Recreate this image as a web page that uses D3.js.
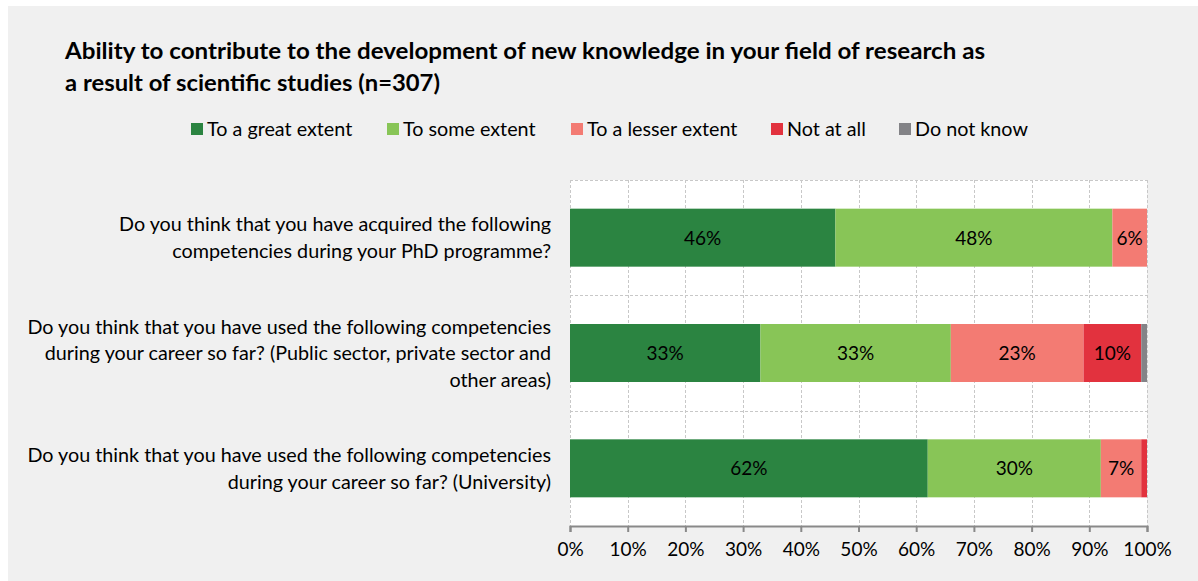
<!DOCTYPE html>
<html>
<head>
<meta charset="utf-8">
<script src="https://cdn.jsdelivr.net/npm/d3@7"></script>
<style>
  html, body { margin: 0; padding: 0; background: #ffffff; }
  svg { display: block; }
  text { font-family: Lato, "Open Sans", sans-serif; fill: #000; }
</style>
</head>
<body>
<svg id="chart" width="1198" height="581"></svg>
<script>
// Survey question rows (each split into display lines)
const categories = [
  ["Do you think that you have acquired the following", "competencies during your PhD programme?"],
  ["Do you think that you have used the following competencies", "during your career so far? (Public sector, private sector and", "other areas)"],
  ["Do you think that you have used the following competencies", "during your career so far? (University)"]
];

// Answer categories and their colours
const seriesNames = ["To a great extent", "To some extent", "To a lesser extent", "Not at all", "Do not know"];
const seriesColors = ["#2b8441", "#88c557", "#f37b73", "#e2323e", "#838387"];

// Share of respondents (%) per row, one array per answer
const greatExtent  = [46, 33, 62];
const someExtent   = [48, 33, 30];
const lesserExtent = [6, 23, 7];
const notAtAll     = [0, 10, 1];
const doNotKnow    = [0, 1, 0];

const xTickValues = [0, 10, 20, 30, 40, 50, 60, 70, 80, 90, 100];

const titleLines = [
  "Ability to contribute to the development of new knowledge in your field of research as",
  "a result of scientific studies (n=307)"
];

const seriesValues = [greatExtent, someExtent, lesserExtent, notAtAll, doNotKnow];

const svg = d3.select("#chart");
const W = 1198, H = 581;
const FS = 19;        // bar and axis labels
const FS_LABEL = 19.75; // category and legend labels

// Panel background
svg.append("rect").attr("x", 8).attr("y", 6).attr("width", W - 8).attr("height", H - 6).attr("fill", "#f0f0f0");

// Title
const title = svg.append("g");
titleLines.forEach((t, i) => {
  const el = title.append("text")
    .attr("x", 65).attr("y", 59 + i * 32)
    .attr("font-weight", "bold").attr("font-size", 22)
    .text(t);
  if (i === 0) el.attr("textLength", 920).attr("lengthAdjust", "spacingAndGlyphs");
  if (i === 1) el.attr("textLength", 375).attr("lengthAdjust", "spacingAndGlyphs");
});

// Legend
const legendX = [191, 387, 571, 771, 899];
const legend = svg.append("g");
seriesNames.forEach((name, i) => {
  legend.append("rect").attr("x", legendX[i]).attr("y", 123).attr("width", 12).attr("height", 12).attr("fill", seriesColors[i]);
  legend.append("text").attr("x", legendX[i] + 16).attr("y", 136).attr("font-size", FS_LABEL).text(name);
});

// Plot area
const x0 = 570, x1 = 1147, y0 = 180, y1 = 526;
const x = d3.scaleLinear().domain([0, 100]).range([x0, x1]);
const y = d3.scaleBand().domain(d3.range(categories.length)).range([y0, y1]).paddingInner(0).paddingOuter(0);
const barH = 58;

svg.append("rect").attr("x", x0).attr("y", y0).attr("width", x1 - x0).attr("height", y1 - y0).attr("fill", "#ffffff");

// Dashed grid
const grid = svg.append("g").attr("stroke", "#c8c8c8").attr("stroke-dasharray", "3,2").attr("stroke-width", 1);
xTickValues.forEach(v => {
  grid.append("line").attr("x1", Math.round(x(v)) + 0.5).attr("x2", Math.round(x(v)) + 0.5).attr("y1", y0).attr("y2", y1);
});
d3.range(categories.length).forEach(i => {
  grid.append("line").attr("x1", x0).attr("x2", x1).attr("y1", Math.round(y(i)) + 0.5).attr("y2", Math.round(y(i)) + 0.5);
});

// Stacked bars
const stackData = categories.map((c, i) => {
  const row = {};
  seriesNames.forEach((s, j) => row[s] = seriesValues[j][i]);
  return row;
});
const stacked = d3.stack().keys(seriesNames)(stackData);

const barsG = svg.append("g");
stacked.forEach((layer, j) => {
  layer.forEach((d, i) => {
    const w = x(d[1]) - x(d[0]);
    if (w <= 0) return;
    const cy = y(i) + y.bandwidth() / 2;
    barsG.append("rect")
      .attr("x", x(d[0])).attr("y", cy - barH / 2)
      .attr("width", w).attr("height", barH)
      .attr("fill", seriesColors[j]);
    const v = d[1] - d[0];
    if (v >= 5) {
      barsG.append("text")
        .attr("x", (x(d[0]) + x(d[1])) / 2).attr("y", cy + 7)
        .attr("text-anchor", "middle").attr("font-size", FS)
        .text(d3.format(".0f")(v) + "%");
    }
  });
});

// Category labels
const labels = svg.append("g");
categories.forEach((lines, i) => {
  const cy = y(i) + y.bandwidth() / 2;
  const lh = 26.5;
  const start = cy - (lines.length - 1) * lh / 2 + 7;
  lines.forEach((ln, k) => {
    labels.append("text").attr("x", 551).attr("y", start + k * lh)
      .attr("text-anchor", "end").attr("font-size", FS_LABEL).text(ln);
  });
});

// X axis
const axis = d3.axisBottom(x).tickValues(xTickValues).tickSize(6).tickPadding(11).tickFormat(d => d + "%");
const axisG = svg.append("g").attr("transform", `translate(0,${y1})`).call(axis);
axisG.select(".domain").attr("stroke", "#898989").attr("stroke-width", 2);
axisG.selectAll(".tick line").attr("stroke", "#898989").attr("stroke-width", 2);
axisG.selectAll(".tick text").attr("font-size", FS).attr("font-family", "Lato, sans-serif").attr("fill", "#000");
</script>
</body>
</html>
